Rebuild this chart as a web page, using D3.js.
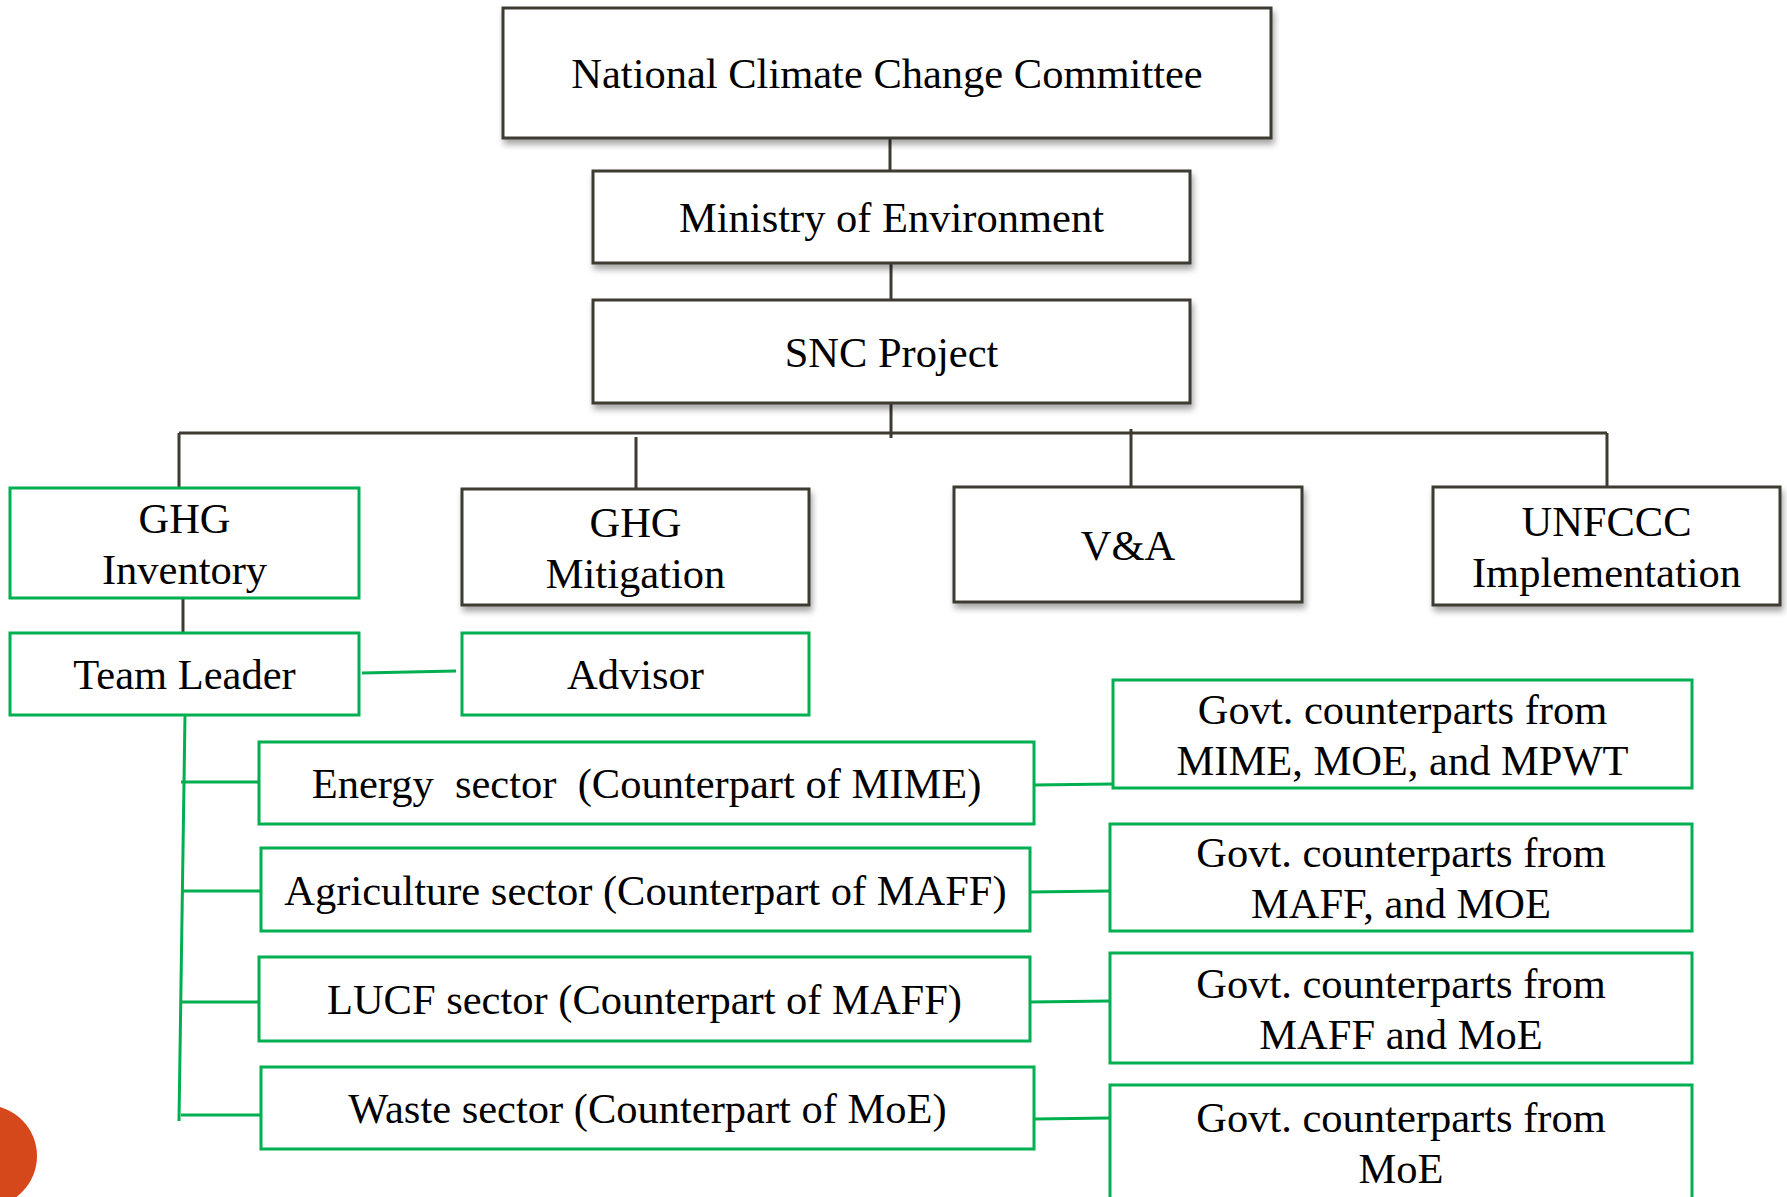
<!DOCTYPE html>
<html>
<head>
<meta charset="utf-8">
<script src="https://cdn.jsdelivr.net/npm/d3@7"></script>
<style>
body { margin: 0; background: #fff; overflow: hidden; }
text { font-family: "Liberation Serif", "Times New Roman", serif; font-size: 42.5px; fill: #000; white-space: pre; }
</style>
</head>
<body>
<div id="vis"></div>
<script>
var w = 1787;
var h = 1197;

var dark = "#3e3a31";
var green = "#00b050";

// labels
var topLabels = ["National Climate Change Committee", "Ministry of Environment", "SNC Project"];
var unitLabels = [["GHG", "Inventory"], ["GHG", "Mitigation"], ["V&A"], ["UNFCCC", "Implementation"]];
var teamLabels = ["Team Leader", "Advisor"];
var sectorLabels = [
	"Energy  sector  (Counterpart of MIME)",
	"Agriculture sector (Counterpart of MAFF)",
	"LUCF sector (Counterpart of MAFF)",
	"Waste sector (Counterpart of MoE)"
];
var govtLabels = [
	["Govt. counterparts from", "MIME, MOE, and MPWT"],
	["Govt. counterparts from", "MAFF, and MOE"],
	["Govt. counterparts from", "MAFF and MoE"],
	["Govt. counterparts from", "MoE"]
];

// layout of the boxes: [x0, y0, x1, y1]
var topBoxes = [[503, 8, 1271, 138], [593, 171, 1190, 263], [593, 300, 1190, 403]];
var unitBoxes = [[10, 488, 359, 598], [462, 489, 809, 605], [954, 487, 1302, 602], [1433, 487, 1780, 605]];
var unitGreen = [true, false, false, false];
var teamBoxes = [[10, 633, 359, 715], [462, 633, 809, 715]];
var sectorBoxes = [[259, 742, 1034, 824], [261, 848, 1030, 931], [259, 957, 1030, 1041], [261, 1067, 1034, 1149]];
var govtBoxes = [[1113, 680, 1692, 788], [1110, 824, 1692, 931], [1110, 953, 1692, 1063], [1110, 1085, 1692, 1200]];

var busY = 433;
var lineGap = 51;

var svg = d3.select("#vis")
	.append("svg")
	.attr("width", w)
	.attr("height", h);

var defs = svg.append("defs");
var shadow = defs.append("filter")
	.attr("id", "shadow")
	.attr("x", "-5%").attr("y", "-10%")
	.attr("width", "115%").attr("height", "130%");
shadow.append("feDropShadow")
	.attr("dx", 2)
	.attr("dy", 5)
	.attr("stdDeviation", 3)
	.attr("flood-color", "#000")
	.attr("flood-opacity", 0.35);

var lines = svg.append("g");
var boxes = svg.append("g");

function line(x1, y1, x2, y2, col) {
	lines.append("line")
		.attr("x1", x1).attr("y1", y1)
		.attr("x2", x2).attr("y2", y2)
		.attr("stroke", col)
		.attr("stroke-width", 3);
}

function cx(b) { return (b[0] + b[2]) / 2; }
function cy(b) { return (b[1] + b[3]) / 2; }

//verbindingen bovenaan
line(890, topBoxes[0][3], 890, topBoxes[1][1], dark);
line(891, topBoxes[1][3], 891, topBoxes[2][1], dark);
line(891, topBoxes[2][3], 891, busY + 5, dark);
line(179, busY, 1607, busY, dark);

//verticale lijnen naar de vier units
var dropX = [179, 636, 1131, 1607];
var dropTop = [busY, busY + 4, busY - 4, busY];
unitBoxes.forEach(function(b, i) {
	line(dropX[i], dropTop[i], dropX[i], b[1], dark);
});

line(183, unitBoxes[0][3], 183, teamBoxes[0][1], dark);

//groene lijnen
line(teamBoxes[0][2] + 3, 673, teamBoxes[1][0] - 6, 671, green);
line(185, teamBoxes[0][3], 179, 1121, green);
var branchY = [782, 891, 1002, 1115];
sectorBoxes.forEach(function(b, i) {
	line(181, branchY[i], b[0], branchY[i], green);
});
var rightY = [785, 892, 1002, 1119];
sectorBoxes.forEach(function(b, i) {
	line(b[2], rightY[i], govtBoxes[i][0], rightY[i] - 1, green);
});

//bolletje linksonder
svg.append("circle")
	.attr("cx", -14)
	.attr("cy", 1156)
	.attr("r", 51)
	.attr("fill", "#d4481c");

function drawBox(b, label, col, withShadow) {
	var g = boxes.append("g");
	g.append("rect")
		.attr("x", b[0]).attr("y", b[1])
		.attr("width", b[2] - b[0])
		.attr("height", b[3] - b[1])
		.attr("fill", "#fff")
		.attr("stroke", col)
		.attr("stroke-width", 3)
		.attr("filter", withShadow ? "url(#shadow)" : null);
	var rows = Array.isArray(label) ? label : [label];
	var first = cy(b) - (rows.length - 1) * lineGap / 2 + 15;
	g.selectAll("text")
		.data(rows)
		.enter()
		.append("text")
		.attr("x", cx(b))
		.attr("y", function(d, i) { return first + i * lineGap; })
		.attr("text-anchor", "middle")
		.text(function(d) { return d; });
}

topBoxes.forEach(function(b, i) { drawBox(b, topLabels[i], dark, true); });
unitBoxes.forEach(function(b, i) {
	drawBox(b, unitLabels[i], unitGreen[i] ? green : dark, !unitGreen[i]);
});
teamBoxes.forEach(function(b, i) { drawBox(b, teamLabels[i], green, false); });
sectorBoxes.forEach(function(b, i) { drawBox(b, sectorLabels[i], green, false); });
govtBoxes.forEach(function(b, i) { drawBox(b, govtLabels[i], green, false); });
</script>
</body>
</html>
